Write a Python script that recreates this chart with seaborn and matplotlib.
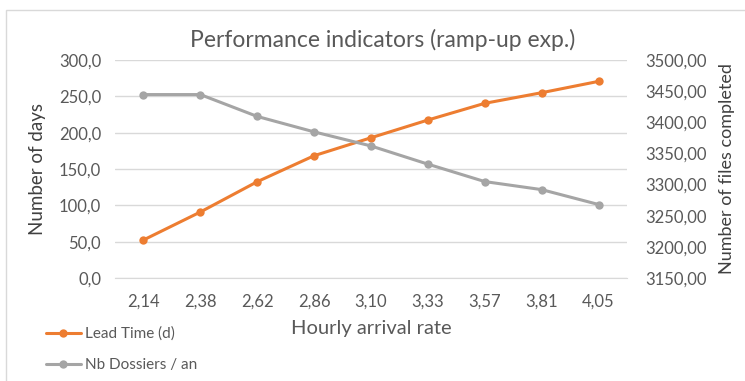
import numpy as np
import pandas as pd
import matplotlib
matplotlib.use("Agg")
import matplotlib.pyplot as plt
import seaborn as sns
from matplotlib.ticker import FuncFormatter, FixedLocator
from matplotlib.patches import Rectangle

# data
arrival_rate = ["2,14", "2,38", "2,62", "2,86", "3,10", "3,33", "3,57", "3,81", "4,05"]
lead_time = [52.3, 90.8, 132.5, 168.3, 193.0, 217.4, 240.4, 255.0, 270.6]
nb_dossiers = [3444.5, 3444.5, 3409.4, 3384.6, 3362.0, 3332.8, 3304.8, 3291.9, 3268.0]

df = pd.DataFrame({"rate": arrival_rate, "lead": lead_time, "files": nb_dossiers})

sns.set_style("white")
plt.rcParams["font.family"] = ["Lato", "DejaVu Sans"]

orange = "#ED7D31"
grey = "#A5A5A5"
tick_col = "#595959"
grid_col = "#D9D9D9"

fig = plt.figure(figsize=(7.45, 3.81), dpi=100)
ax = fig.add_axes([115 / 745, 1 - 278 / 381, 512 / 745, 218 / 381])
ax2 = ax.twinx()

sns.lineplot(data=df, x="rate", y="lead", ax=ax, color=orange, lw=2.2,
             marker="o", markersize=6, markeredgewidth=0, label="Lead Time (d)",
             legend=False, sort=False)
sns.lineplot(data=df, x="rate", y="files", ax=ax2, color=grey, lw=2.2,
             marker="o", markersize=6, markeredgewidth=0, label="Nb Dossiers / an",
             legend=False, sort=False)

n = len(arrival_rate)
ax.set_xlim(-0.5, n - 0.5)
ax.set_ylim(0, 300)
ax.set_yticks(np.arange(0, 301, 50))
ax.yaxis.set_major_formatter(FuncFormatter(lambda v, p: f"{v:.1f}".replace(".", ",")))
ax2.set_ylim(3150, 3500)
ax2.set_yticks(np.arange(3150, 3501, 50))
ax2.yaxis.set_major_formatter(FuncFormatter(lambda v, p: f"{v:.2f}".replace(".", ",")))

ax.grid(axis="y", color=grid_col, lw=1)
ax.set_axisbelow(True)
ax2.grid(False)
for a in (ax, ax2):
    for s in a.spines.values():
        s.set_visible(False)
ax.spines["bottom"].set_visible(True)
ax.spines["bottom"].set_color(grid_col)

# category tick marks sit between categories
ax.xaxis.set_minor_locator(FixedLocator(np.arange(-0.5, n, 1.0)))
ax.tick_params(axis="x", which="minor", length=5, color=grid_col, width=1, direction="out")
ax.tick_params(axis="x", which="major", length=0, pad=11, labelsize=12, labelcolor=tick_col)
ax.tick_params(axis="y", length=0, pad=10, labelsize=12, labelcolor=tick_col)
ax2.tick_params(axis="y", length=0, pad=13, labelsize=12, labelcolor=tick_col)

ax.set_xlabel("Hourly arrival rate", fontsize=14.5, color=tick_col, labelpad=8)
ax.set_ylabel("Number of days", fontsize=13.5, color="#404040", labelpad=9)
ax2.set_ylabel("Number of files completed", fontsize=13, color="#404040", labelpad=9)

fig.suptitle("Performance indicators (ramp-up exp.)", x=0.513, y=0.925,
             fontsize=16.5, color=tick_col)

handles = ax.get_lines()[:1] + ax2.get_lines()[:1]
fig.legend(handles, ["Lead Time (d)", "Nb Dossiers / an"], loc="upper left",
           bbox_to_anchor=(32 / 745, 1 - 313 / 381), frameon=False, fontsize=11,
           handlelength=2.3, handletextpad=0.25, labelspacing=1.1,
           labelcolor=tick_col)

# chart border (right and bottom edges fall outside the crop)
fig.patches.append(Rectangle((6 / 745, -0.1), 1.0, 1 - 10 / 381 + 0.1,
                             transform=fig.transFigure, fill=False,
                             edgecolor=grid_col, lw=1))

fig.savefig("out.png", dpi=100)
